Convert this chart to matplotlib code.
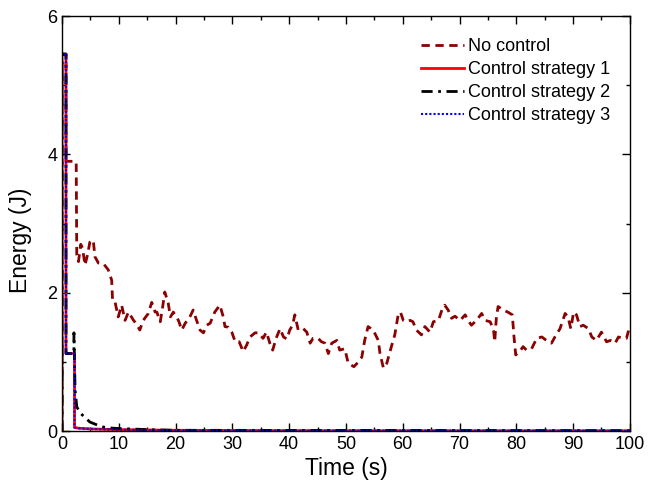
import matplotlib
matplotlib.use("Agg")
import matplotlib.pyplot as plt
from matplotlib.ticker import MultipleLocator

plt.rcParams['font.family'] = ['Liberation Sans', 'DejaVu Sans']

# No control
t_nc = [0, 0, 0.7, 0.7, 2.4, 2.5, 2.6, 2.9, 3.3, 3.6, 4.05, 4.5, 4.9, 5.5, 5.8, 6.4, 7.3, 8.15, 8.75,
        8.9, 9.3, 9.9, 10.5, 11.1, 11.7, 12.6, 13.1, 13.7, 14.3, 15.2, 15.8, 16.4, 16.7, 17.3, 17.7,
        18.1, 18.7, 19.1, 19.6, 20.5, 21.1, 21.7, 22.4, 23.1, 23.7, 24.3, 24.9, 25.5, 26.1, 26.9,
        27.8, 28.4, 28.7, 29.3, 29.9, 30.5, 31.2, 31.9, 32.5, 33.1, 34.0, 34.6, 35.4, 36.0, 36.6,
        37.1, 37.7, 38.4, 39.0, 39.6, 40.1, 40.6, 41.0, 41.6, 42.5, 43.1, 43.7, 44.2, 45.1, 45.7,
        46.3, 46.9, 47.5, 48.4, 48.9, 49.8, 50.4, 51.4, 52.2, 52.8, 53.3, 53.9, 54.8, 55.7, 56.0,
        56.6, 57.2, 58.0, 58.6, 59.2, 59.6, 60.1, 60.7, 61.3, 61.8, 62.4, 63.3, 63.9, 64.8, 65.4,
        66.3, 66.9, 67.4, 68.0, 68.6, 69.2, 70.1, 71.0, 71.5, 72.1, 73.0, 73.9, 74.5, 75.4, 76.0,
        76.2, 76.5, 76.8, 77.7, 78.5, 79.3, 79.6, 79.9, 80.6, 81.2, 81.8, 82.7, 83.6, 84.5, 85.3,
        86.2, 86.8, 87.7, 88.6, 89.1, 89.6, 90.1, 90.6, 91.2, 91.8, 92.7, 93.3, 94.1, 95.0, 95.9,
        96.6, 97.4, 98.0, 98.8, 99.4, 100]
e_nc = [0, 5.45, 5.45, 3.9, 3.9, 3.85, 2.55, 2.45, 2.7, 2.65, 2.4, 2.55, 2.73, 2.76, 2.52, 2.43, 2.42,
        2.33, 2.18, 1.89, 1.88, 1.65, 1.82, 1.6, 1.72, 1.6, 1.55, 1.46, 1.6, 1.7, 1.86, 1.72, 1.72,
        1.58, 1.78, 2.01, 1.85, 1.65, 1.72, 1.60, 1.46, 1.56, 1.63, 1.75, 1.6, 1.46, 1.42, 1.53,
        1.56, 1.72, 1.82, 1.65, 1.51, 1.5, 1.43, 1.29, 1.29, 1.15, 1.24, 1.36, 1.42, 1.42, 1.34,
        1.43, 1.27, 1.17, 1.34, 1.48, 1.36, 1.33, 1.46, 1.53, 1.68, 1.46, 1.48, 1.43, 1.27, 1.34,
        1.34, 1.29, 1.27, 1.12, 1.27, 1.31, 1.17, 1.19, 0.98, 0.93, 1.00, 1.07, 1.31, 1.51, 1.46,
        1.31, 1.12, 0.91, 0.98, 1.22, 1.39, 1.68, 1.72, 1.60, 1.58, 1.60, 1.58, 1.46, 1.39, 1.51,
        1.43, 1.58, 1.60, 1.75, 1.82, 1.75, 1.63, 1.66, 1.60, 1.68, 1.60, 1.53, 1.60, 1.70, 1.60,
        1.58, 1.46, 1.29, 1.65, 1.80, 1.75, 1.72, 1.68, 1.36, 1.10, 1.15, 1.22, 1.17, 1.19, 1.34,
        1.36, 1.31, 1.27, 1.36, 1.48, 1.70, 1.65, 1.48, 1.72, 1.68, 1.51, 1.53, 1.48, 1.36, 1.31,
        1.43, 1.29, 1.31, 1.27, 1.36, 1.34, 1.34, 1.52]

# Control strategy 1
t_c1 = [0, 0, 0.7, 0.7, 2.2, 2.2, 3, 5, 10, 20, 40, 100]
e_c1 = [0, 5.45, 5.45, 1.12, 1.12, 0.05, 0.04, 0.03, 0.02, 0.01, 0.005, 0.003]

# Control strategy 2
t_c2 = [0, 0, 0.7, 0.7, 2.1, 2.1, 2.3, 2.6, 3.2, 4.0, 4.9, 5.8, 7, 9, 12, 15, 20, 100]
e_c2 = [0, 5.45, 5.45, 1.12, 1.12, 1.42, 0.6, 0.35, 0.26, 0.2, 0.13, 0.1, 0.06, 0.04, 0.03, 0.02, 0.01, 0.005]

# Control strategy 3
t_c3 = [0, 0, 0.7, 0.7, 2.2, 2.2, 3, 5, 10, 20, 40, 100]
e_c3 = [0, 5.45, 5.45, 1.12, 1.12, 0.05, 0.04, 0.03, 0.02, 0.01, 0.005, 0.003]

fig = plt.figure(figsize=(6.48, 4.88), dpi=100)
ax = fig.add_axes([0.0957, 0.1168, 0.8763, 0.8502])

ax.plot(t_nc, e_nc, color='#8B0000', lw=2, dashes=(3, 2), label='No control')
ax.plot(t_c1, e_c1, color='#FF0000', lw=2, label='Control strategy 1')
ax.plot(t_c2, e_c2, color='black', lw=2, dashes=(4, 2, 1, 2), label='Control strategy 2')
ax.plot(t_c3, e_c3, color='#0000FF', lw=1.5, dashes=(1, 1), label='Control strategy 3')

ax.set_xlim(0, 100)
ax.set_ylim(0, 6)
ax.xaxis.set_major_locator(MultipleLocator(10))
ax.xaxis.set_minor_locator(MultipleLocator(5))
ax.yaxis.set_major_locator(MultipleLocator(2))
ax.yaxis.set_minor_locator(MultipleLocator(1))
ax.tick_params(which='both', direction='in', top=True, right=True, labelsize=13, width=1)
ax.tick_params(which='major', length=6)
ax.tick_params(which='minor', length=3)
for s in ax.spines.values():
    s.set_linewidth(1)

ax.set_xlabel('Time (s)', fontsize=16.5)
ax.set_ylabel('Energy (J)', fontsize=16.5)
ax.xaxis.set_label_coords(0.5, -0.063)
ax.yaxis.set_label_coords(-0.053, 0.46)

ax.legend(loc='upper right', frameon=False, fontsize=13, handlelength=2.4,
          handletextpad=0.2, labelspacing=0.33, borderaxespad=0.6,
          bbox_to_anchor=(0.997, 0.99))

fig.savefig('out.png', dpi=100)
